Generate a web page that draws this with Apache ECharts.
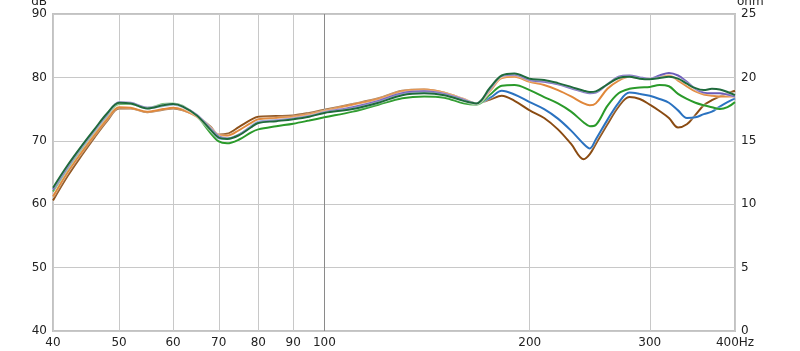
<!DOCTYPE html>
<html>
<head>
<meta charset="utf-8">
<script src="https://cdn.jsdelivr.net/npm/echarts@6/dist/echarts.min.js"></script>
<style>html,body{margin:0;padding:0;background:#fff}#c{width:800px;height:351px}</style>
</head>
<body>
<div id="c"></div>
<script>
// Frequencies (Hz)
const freqs = [40,42,44,46,48,50,52,55,58,60,62,65,68,70,72,75,78,80,85,90,95,100,110,120,130,140,150,160,167,175,182,190,200,210,220,230,240,245,250,260,270,280,290,300,310,320,330,340,350,360,370,380,390,400];
// Tick labels
const xTicks = [40,50,60,70,80,90,100,200,300,400];
const dbTicks = [40,50,60,70,80,90];
const ohmTicks = [0,5,10,15,20,25];
// Series values (dB)
const greenS = [62.0,65.5,68.6,71.3,73.8, 75.8,75.8,75.2,75.8,75.9, 75.5,73.9,71.3,69.9,69.6, 70.2,71.3,71.8,72.3,72.7, 73.2,73.7,74.6,75.7,76.7, 77.0,76.8,75.9,75.7,77.3, 78.7,78.8,78.0,76.9,75.9, 74.6,72.9,72.3,72.5,75.5, 77.5,78.2,78.4,78.5,78.8, 78.6,77.4,76.6,76.0,75.6, 75.3,75.0,75.3,76.1];
const blueS = [62.4,65.9,69.0,71.7,74.2, 76.0,75.9,75.1,75.5,75.7, 75.3,73.9,71.7,70.4,70.3, 71.0,72.3,73.0,73.3,73.5, 73.9,74.5,75.1,76.2,77.3, 77.6,77.3,76.4,75.9,76.8, 77.9,77.3,76.1,75.0,73.5, 71.6,69.5,68.8,70.2,73.3, 76.0,77.6,77.4,77.1,76.6, 76.0,74.8,73.6,73.7,74.2, 74.6,75.4,76.1,76.7];
const brownS = [60.6,64.4,67.6,70.5,73.1, 75.1,75.1,74.5,74.9,75.1, 74.8,73.9,72.3,71.0,71.1, 72.2,73.3,73.8,73.9,74.0, 74.4,74.9,75.8,76.7,77.9, 78.1,77.6,76.6,75.9,76.5, 77.1,76.3,74.8,73.6,71.8, 69.5,67.1,67.9,69.5,72.6, 75.4,76.9,76.6,75.7,74.7, 73.6,72.1,72.6,74.1,75.6, 76.4,77.0,77.5,77.9];
const orangeS = [61.2,65.0,68.1,70.9,73.4, 75.3,75.2,74.6,75.0,75.2, 74.9,73.8,72.0,70.9,70.8, 71.7,72.8,73.4,73.6,73.8, 74.2,74.7,75.7,76.6,77.8, 78.1,77.6,76.6,75.9,77.9, 79.9,80.1,79.3,78.8,78.0, 77.0,75.9,75.6,75.9,78.2, 79.5,80.1,79.9,79.8,80.1, 80.3,79.5,78.6,77.8,77.3, 77.1,77.0,77.0,77.0];
const purpleS = [62.3,65.8,68.9,71.6,74.1, 76.1,76.0,75.2,75.6,75.8, 75.4,74.1,72.0,70.7,70.4, 71.0,72.2,72.9,73.2,73.5, 73.9,74.5,75.3,76.3,77.5, 77.8,77.4,76.5,75.9,78.2, 80.2,80.4,79.6,79.3,78.9, 78.3,77.7,77.5,77.6,78.9, 80.1,80.3,80.0,79.8,80.3, 80.7,80.3,79.3,78.2,77.6, 77.5,77.5,77.3,77.0];
const darkGreenS = [62.6,66.1,69.1,71.8,74.3, 76.0,75.9,75.1,75.6,75.8, 75.4,74.0,71.8,70.5,70.3, 70.9,72.1,72.8,73.1,73.4, 73.8,74.4,75.0,76.0,77.2, 77.5,77.2,76.3,75.9,78.4, 80.3,80.6,79.8,79.6,79.1, 78.5,77.9,77.7,77.8,78.9, 79.9,80.1,79.8,79.7,79.9, 80.1,79.8,79.0,78.3,78.0, 78.2,78.1,77.7,77.2];

const seriesDefs = [
  {name:'brown', color:'#8a4b12', data:brownS},
  {name:'blue', color:'#2a72c0', data:blueS},
  {name:'green', color:'#2a9a2a', data:greenS},
  {name:'orange', color:'#e0873a', data:orangeS},
  {name:'purple', color:'#6a5ab8', data:purpleS},
  {name:'darkgreen', color:'#1f6a3c', data:darkGreenS}
];

const lg = v => Math.log10(v);
const font = 'DejaVu Sans';

const series = seriesDefs.map((s, i) => ({
  type: 'line',
  name: s.name,
  symbol: 'none',
  smooth: 0.35,
  z: 3 + i,
  data: freqs.map((f, k) => [lg(f), s.data[k]]),
  lineStyle: {color: s.color, width: 2, shadowColor: 'rgba(255,255,255,1)', shadowBlur: 2},
  itemStyle: {color: s.color},
  markLine: i === 0 ? {
    silent: true, symbol: 'none', label: {show: false},
    lineStyle: {color: '#8a8a8a', width: 1, type: 'solid'},
    data: [{xAxis: lg(100)}]
  } : undefined
}));

const chart = echarts.init(document.getElementById('c'), null, {renderer: 'canvas'});
chart.setOption({
  animation: false,
  backgroundColor: '#fff',
  grid: {left: 53, right: 65, top: 14, bottom: 20, show: true, borderColor: '#c2c2c2', borderWidth: 2, backgroundColor: 'transparent', containLabel: false, outerBoundsMode: 'none'},
  xAxis: {
    type: 'value', min: lg(40), max: lg(400),
    axisLine: {show: false},
    axisTick: {show: false, customValues: xTicks.map(lg)},
    axisLabel: {
      customValues: xTicks.map(lg), margin: 6, color: '#222', fontFamily: font, fontSize: 12,
      formatter: v => { const f = Math.round(Math.pow(10, v)); return f === 400 ? '400Hz' : String(f); }
    },
    splitLine: {show: true, lineStyle: {color: '#c8c8c8', width: 1}}
  },
  yAxis: [
    {
      type: 'value', min: dbTicks[0], max: dbTicks[dbTicks.length-1], interval: 10, position: 'left',
      name: 'dB', nameLocation: 'end', nameGap: 4,
      nameTextStyle: {color: '#222', fontFamily: font, fontSize: 12, align: 'right', padding: [0, 6, 0, 0]},
      axisLine: {show: false}, axisTick: {show: false},
      axisLabel: {margin: 6, color: '#222', fontFamily: font, fontSize: 12},
      splitLine: {show: true, lineStyle: {color: '#c8c8c8', width: 1}}
    },
    {
      type: 'value', min: ohmTicks[0], max: ohmTicks[ohmTicks.length-1], interval: 5, position: 'right',
      name: 'ohm', nameLocation: 'end', nameGap: 4,
      nameTextStyle: {color: '#222', fontFamily: font, fontSize: 12, align: 'left', padding: [0, 0, 0, 2]},
      axisLine: {show: false}, axisTick: {show: false},
      axisLabel: {margin: 6, color: '#222', fontFamily: font, fontSize: 12},
      splitLine: {show: false}
    }
  ],
  series: series
});
</script>
</body>
</html>
